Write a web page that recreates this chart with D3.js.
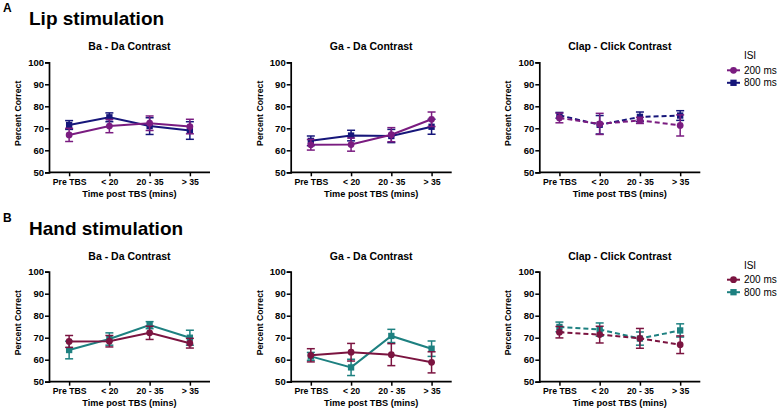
<!DOCTYPE html>
<html><head><meta charset="utf-8">
<script src="https://cdn.jsdelivr.net/npm/d3@7"></script>
<style>body{margin:0;background:#fff}svg{display:block;font-family:"Liberation Sans",Arial,sans-serif}</style>
</head><body><svg id="c" width="777" height="408"></svg>
<script>
const categories = ["Pre TBS", "< 20", "20 - 35", "> 35"];
const yTicks = [50, 60, 70, 80, 90, 100];
const seriesNames = ["200 ms", "800 ms"];
const contrasts = ["Ba - Da Contrast", "Ga - Da Contrast", "Clap - Click Contrast"];

// Lip stimulation
const lipBaDa200 = [67.0, 71.0, 72.3, 70.8], lipBaDa200Err = [3.0, 3.0, 3.3, 3.3];
const lipBaDa800 = [71.5, 75.0, 71.0, 69.0], lipBaDa800Err = [2.0, 2.0, 3.8, 4.0];
const lipGaDa200 = [62.5, 62.6, 67.1, 74.1], lipGaDa200Err = [2.4, 3.0, 3.2, 3.3];
const lipGaDa800 = [64.3, 66.7, 66.5, 70.7], lipGaDa800Err = [2.2, 2.4, 3.0, 3.4];
const lipClap200 = [74.7, 72.0, 73.6, 71.3], lipClap200Err = [2.2, 4.8, 1.4, 4.8];
const lipClap800 = [75.9, 71.6, 75.2, 75.8], lipClap800Err = [1.3, 4.2, 2.2, 2.2];
// Hand stimulation
const handBaDa200 = [68.3, 68.4, 72.2, 67.5], handBaDa200Err = [2.7, 2.6, 3.0, 2.2];
const handBaDa800 = [64.4, 69.4, 75.7, 70.0], handBaDa800Err = [4.0, 2.8, 1.6, 3.4];
const handGaDa200 = [62.0, 63.4, 62.3, 58.8], handGaDa200Err = [3.0, 4.0, 5.0, 4.8];
const handGaDa800 = [61.5, 56.5, 70.8, 65.0], handGaDa800Err = [1.8, 3.7, 3.0, 3.5];
const handClap200 = [72.5, 71.4, 69.7, 66.8], handClap200Err = [2.6, 3.8, 4.5, 4.0];
const handClap800 = [74.9, 73.7, 69.6, 73.3], handClap800Err = [2.2, 3.0, 3.0, 3.0];

const rows = [
  {letter: "A", title: "Lip stimulation", colors: ["#7a1c80", "#16167a"],
   panels: [[lipBaDa200, lipBaDa200Err, lipBaDa800, lipBaDa800Err],
            [lipGaDa200, lipGaDa200Err, lipGaDa800, lipGaDa800Err],
            [lipClap200, lipClap200Err, lipClap800, lipClap800Err]]},
  {letter: "B", title: "Hand stimulation", colors: ["#7b1440", "#1d8080"],
   panels: [[handBaDa200, handBaDa200Err, handBaDa800, handBaDa800Err],
            [handGaDa200, handGaDa200Err, handGaDa800, handGaDa800Err],
            [handClap200, handClap200Err, handClap800, handClap800Err]]}
];

const svg = d3.select("#c");
const panelX = [49, 290.7, 539.3];
const axisW = 161;
const rowTop = [62.3, 271.7];
const axisH = 110;

rows.forEach((row, ri) => {
  const top = rowTop[ri];
  const g0 = ri === 0 ? 0 : 209.5;
  svg.append("text").attr("x", 3).attr("y", 12 + g0).attr("font-size", 12).attr("font-weight", "bold").text(row.letter);
  svg.append("text").attr("x", 29).attr("y", 25 + g0).attr("font-size", 19).attr("font-weight", "bold").text(row.title);

  row.panels.forEach((p, pi) => {
    const x0 = panelX[pi];
    const x = d3.scalePoint().domain(categories).range([x0, x0 + axisW]).padding(0.5);
    const y = d3.scaleLinear().domain([50, 100]).range([top + axisH, top]);
    const g = svg.append("g");
    g.append("text").attr("x", x0 + axisW / 2).attr("y", top - 12).attr("text-anchor", "middle")
      .attr("font-size", 10.5).attr("font-weight", "bold").text(contrasts[pi]);
    const ya = g.append("g").attr("transform", `translate(${x0},0)`)
      .call(d3.axisLeft(y).tickValues(yTicks).tickSize(4).tickPadding(1));
    const xa = g.append("g").attr("transform", `translate(0,${top + axisH})`)
      .call(d3.axisBottom(x).tickSize(4).tickPadding(2.5).tickSizeOuter(0));
    [ya, xa].forEach(a => {
      a.select(".domain").attr("stroke", "#000").attr("stroke-width", 1.7);
      a.selectAll(".tick line").attr("stroke", "#000").attr("stroke-width", 1.5);
      a.selectAll("text").attr("font-family", "Liberation Sans, Arial, sans-serif")
        .attr("font-weight", "bold").attr("fill", "#000");
    });
    ya.selectAll("text").attr("font-size", 9.5);
    xa.selectAll("text").attr("font-size", 8.7);
    xa.select(".domain").attr("d", `M${x0},0H${x0 + axisW}`);
    g.append("text").attr("x", x0 + axisW / 2).attr("y", top + axisH + 24.5).attr("text-anchor", "middle")
      .attr("font-size", 9.2).attr("font-weight", "bold").text("Time post TBS (mins)");
    g.append("text").attr("transform", `translate(${x0 - 28},${top + 51}) rotate(-90)`).attr("text-anchor", "middle")
      .attr("font-size", 8.7).attr("font-weight", "bold").text("Percent Correct");

    const dashed = pi === 2;
    const series = [
      {vals: p[2], errs: p[3], color: row.colors[1], shape: "square"},
      {vals: p[0], errs: p[1], color: row.colors[0], shape: "circle"}
    ];
    series.forEach(s => {
      const pts = categories.map((c, i) => ({c, v: s.vals[i], e: s.errs[i]}));
      const line = d3.line().x(d => x(d.c)).y(d => y(d.v));
      g.append("path").datum(pts).attr("d", line).attr("fill", "none").attr("stroke", s.color)
        .attr("stroke-width", 2).attr("stroke-dasharray", dashed ? "5,3" : null);
      const eb = g.append("g").attr("stroke", s.color).attr("stroke-width", 1.5);
      pts.forEach(d => {
        const cx = x(d.c);
        eb.append("line").attr("x1", cx).attr("x2", cx).attr("y1", y(d.v - d.e)).attr("y2", y(d.v + d.e));
        eb.append("line").attr("x1", cx - 4).attr("x2", cx + 4).attr("y1", y(d.v - d.e)).attr("y2", y(d.v - d.e));
        eb.append("line").attr("x1", cx - 4).attr("x2", cx + 4).attr("y1", y(d.v + d.e)).attr("y2", y(d.v + d.e));
      });
      const sym = d3.symbol().type(s.shape === "square" ? d3.symbolSquare : d3.symbolCircle).size(s.shape === "square" ? 40 : 36);
      g.selectAll(null).data(pts).enter().append("path")
        .attr("transform", d => `translate(${x(d.c)},${y(d.v)})`).attr("d", sym()).attr("fill", s.color);
    });

    if (pi === 2) {
      const lx = 727, ly = top - 3;
      g.append("text").attr("x", 750).attr("y", ly).attr("text-anchor", "middle").attr("font-size", 10).text("ISI");
      seriesNames.forEach((n, k) => {
        const yy = ly + 11 + k * 12.5;
        const col = row.colors[k];
        g.append("line").attr("x1", lx).attr("x2", lx + 13).attr("y1", yy).attr("y2", yy).attr("stroke", col).attr("stroke-width", 2);
        g.append("path").attr("transform", `translate(${lx + 6.5},${yy})`)
          .attr("d", d3.symbol().type(k === 0 ? d3.symbolCircle : d3.symbolSquare).size(k === 0 ? 36 : 40)()).attr("fill", col);
        g.append("text").attr("x", lx + 17).attr("y", yy + 3.5).attr("font-size", 10).text(n);
      });
    }
  });
});
</script></body></html>
